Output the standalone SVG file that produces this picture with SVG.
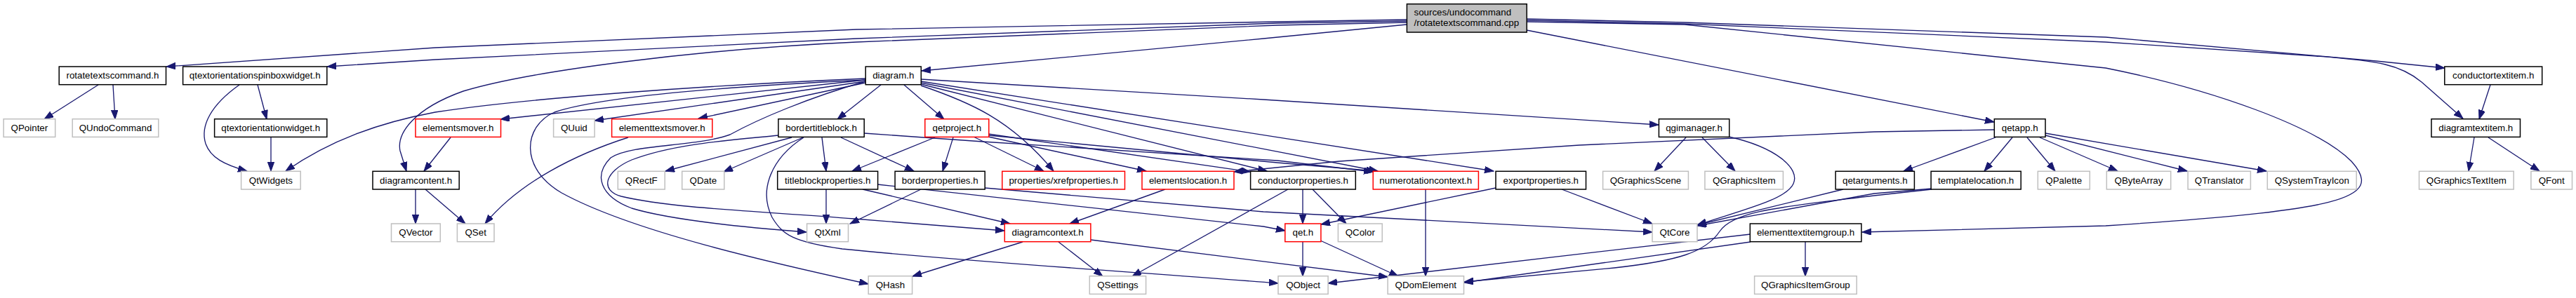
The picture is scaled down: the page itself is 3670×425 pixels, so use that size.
<svg xmlns="http://www.w3.org/2000/svg" width="3670" height="425" viewBox="0 0 3670 425">
<style>
text{font-family:"Liberation Sans",Arial,sans-serif;font-size:13.33px;fill:#000;text-anchor:middle}
.nd rect{fill:#fff;stroke:#000;stroke-width:1.5}
.gr rect{stroke:#bfbfbf}
.rd rect{stroke:#ff0000}
#edges path{fill:none;stroke:#191970;stroke-width:1.33;marker-end:url(#a)}
</style>
<defs>
<marker id="a" markerWidth="14" markerHeight="10" refX="13" refY="4.7" orient="auto" markerUnits="userSpaceOnUse"><path d="M0,0 L13,4.7 L0,9.4 z" fill="#191970" stroke="#191970" stroke-width="1"/></marker>
</defs>
<rect width="3670" height="425" fill="#fff"/>
<g id="edges">
<path d="M2004,28 L1820,31 L1220,42 L620,68 L237,95"/>
<path d="M2004,30 L1820,33 L1220,55 L620,85 L466,95"/>
<path d="M2004,32 L1820,36 L1220,60 C1000,70 760,100 660,130 C590,155 565,190 570,215 L579,244"/>
<path d="M2004,35 L1800,55 L1313,101"/>
<path d="M2175,43 L2841,174"/>
<path d="M2175,27 L2400,32 L3000,53 L3385,87 L3483,97"/>
<path d="M2175,29 L2400,34 L3000,60 L3300,80 C3390,87 3420,92 3450,117 L3509,169"/>
<path d="M2175,31 L2400,35 L3000,97 C3150,127 3300,180 3350,230 C3400,285 3330,300 3000,322 L2653,331"/>
<path d="M140,121 L63,170"/>
<path d="M161,121 L164,170"/>
<path d="M367,121 L380,170"/>
<path d="M341,121 C300,150 285,180 293,205 C300,225 320,235 352,244"/>
<path d="M386,196 L386,244"/>
<path d="M1233,112 C1000,122 750,140 620,160 C540,175 470,200 407,244"/>
<path d="M1233,114 L713,170"/>
<path d="M1233,116 L847,172"/>
<path d="M1233,118 L995,169"/>
<path d="M1255,121 L1193,170"/>
<path d="M1288,121 L1345,170"/>
<path d="M1312,122 C1380,145 1440,170 1501,244"/>
<path d="M1233,114 C1000,125 850,140 790,160 C745,180 740,240 800,275 C900,330 1100,375 1237,405"/>
<path d="M1233,116 C1150,140 1080,170 1040,192 C990,210 900,205 870,225 C845,250 855,280 900,297 C960,315 1070,325 1149,331"/>
<path d="M1109,193 C1040,200 960,205 900,228 C860,245 855,272 885,280 C960,298 1100,302 1217,312 C1300,318 1380,325 1431,329"/>
<path d="M1128,196 L948,244"/>
<path d="M1144,196 L1031,245"/>
<path d="M1171,196 L1177,244"/>
<path d="M1198,196 L1302,244"/>
<path d="M1145,196 C1100,225 1080,270 1100,310 C1115,335 1130,345 1200,355 C1400,375 1650,390 1821,404"/>
<path d="M1231,190 L1400,202 L1820,229 L1956,245"/>
<path d="M1332,196 L1214,244"/>
<path d="M1358,196 L1343,244"/>
<path d="M1387,195 L1487,244"/>
<path d="M1408,195 L1633,244"/>
<path d="M1408,191 L1781,245"/>
<path d="M1408,193 L1820,232 L1960,244"/>
<path d="M1312,120 L1805,244"/>
<path d="M1312,118 L1963,244"/>
<path d="M1312,116 L2128,244"/>
<path d="M1312,113 L1800,142 L2363,178"/>
<path d="M2841,185 L2670,188 L2250,207 L1908,230 L1758,245"/>
<path d="M642,196 L604,244"/>
<path d="M592,270 L592,319"/>
<path d="M606,270 L663,319"/>
<path d="M895,196 C820,220 740,260 691,319"/>
<path d="M1177,270 L1177,319"/>
<path d="M1229,270 L1439,319"/>
<path d="M1250,263 L1800,323 L1831,329"/>
<path d="M1312,270 L1211,319"/>
<path d="M1403,268 L1800,302 L2354,331"/>
<path d="M1660,270 L1524,319"/>
<path d="M1856,270 L1856,319"/>
<path d="M1870,270 L1918,319"/>
<path d="M1835,270 L1613,394"/>
<path d="M2131,268 L1882,320"/>
<path d="M2225,270 L2354,319"/>
<path d="M2031,270 L2031,394"/>
<path d="M2402,196 L2357,244"/>
<path d="M2425,196 L2472,244"/>
<path d="M2463,195 C2530,210 2565,240 2555,262 C2545,285 2480,300 2418,321"/>
<path d="M2843,196 L2712,244"/>
<path d="M2867,196 L2827,244"/>
<path d="M2888,196 L2928,244"/>
<path d="M2906,196 L3017,244"/>
<path d="M2914,193 L3116,244"/>
<path d="M2914,190 L3229,244"/>
<path d="M2626,270 L2418,321"/>
<path d="M2752,269 L2670,276 L2418,322"/>
<path d="M2752,270 L2670,279 C2540,295 2470,300 2450,330 C2430,360 2390,372 2300,382 L2086,402"/>
<path d="M2494,334 L1892,404"/>
<path d="M2494,345 L2086,403"/>
<path d="M2572,345 L2572,394"/>
<path d="M1457,345 L1300,394"/>
<path d="M1508,345 L1571,394"/>
<path d="M1554,342 L1977,395"/>
<path d="M1856,345 L1856,394"/>
<path d="M1881,343 L1992,394"/>
<path d="M3548,121 L3532,170"/>
<path d="M3525,196 L3517,244"/>
<path d="M3545,196 L3618,244"/>
</g>
<g id="root" class="nd"><rect x="2004.4" y="5.7" width="170.8" height="40.3" style="fill:#bfbfbf"/><text x="2014.5" y="21.5" style="text-anchor:start">sources/undocommand</text><text x="2014.5" y="36.5" style="text-anchor:start">/rotatetextscommand.cpp</text></g>
<g id="n_rotatetextscommand" class="nd"><rect x="84.2" y="95" width="152.3" height="25.7"/><text x="160.4" y="112.3">rotatetextscommand.h</text></g>
<g id="n_qtospin" class="nd"><rect x="260.6" y="95" width="205.2" height="25.7"/><text x="363.2" y="112.3">qtextorientationspinboxwidget.h</text></g>
<g id="n_diagram" class="nd"><rect x="1233.2" y="95" width="79.1" height="25.7"/><text x="1272.8" y="112.3">diagram.h</text></g>
<g id="n_conductortextitem" class="nd"><rect x="3482.8" y="95" width="138.9" height="25.7"/><text x="3552.2" y="112.3">conductortextitem.h</text></g>
<g id="n_QPointer" class="nd gr"><rect x="5.1" y="169.7" width="73.6" height="25.7"/><text x="41.9" y="187">QPointer</text></g>
<g id="n_QUndoCommand" class="nd gr"><rect x="103.2" y="169.7" width="122.6" height="25.7"/><text x="164.5" y="187">QUndoCommand</text></g>
<g id="n_qtow" class="nd"><rect x="305.6" y="169.7" width="160.2" height="25.7"/><text x="385.7" y="187">qtextorientationwidget.h</text></g>
<g id="n_elementsmover" class="nd rd"><rect x="592" y="169.7" width="121.5" height="25.7"/><text x="652.8" y="187">elementsmover.h</text></g>
<g id="n_QUuid" class="nd gr"><rect x="788.6" y="169.7" width="58.5" height="25.7"/><text x="817.9" y="187">QUuid</text></g>
<g id="n_elementtextsmover" class="nd rd"><rect x="871.6" y="169.7" width="143.2" height="25.7"/><text x="943.2" y="187">elementtextsmover.h</text></g>
<g id="n_bordertitleblock" class="nd"><rect x="1108.9" y="169.7" width="122.3" height="25.7"/><text x="1170.1" y="187">bordertitleblock.h</text></g>
<g id="n_qetproject" class="nd rd"><rect x="1317.8" y="169.7" width="91" height="25.7"/><text x="1363.3" y="187">qetproject.h</text></g>
<g id="n_qgimanager" class="nd"><rect x="2363.4" y="169.7" width="100.3" height="25.7"/><text x="2413.6" y="187">qgimanager.h</text></g>
<g id="n_qetapp" class="nd"><rect x="2841.3" y="169.7" width="72.7" height="25.7"/><text x="2877.7" y="187">qetapp.h</text></g>
<g id="n_diagramtextitem" class="nd"><rect x="3464" y="169.7" width="126.5" height="25.7"/><text x="3527.3" y="187">diagramtextitem.h</text></g>
<g id="n_QtWidgets" class="nd gr"><rect x="343.6" y="244.3" width="84.6" height="25.7"/><text x="385.9" y="261.6">QtWidgets</text></g>
<g id="n_diagramcontent" class="nd"><rect x="531" y="244.3" width="123.2" height="25.7"/><text x="592.6" y="261.6">diagramcontent.h</text></g>
<g id="n_QRectF" class="nd gr"><rect x="880.3" y="244.3" width="66.9" height="25.7"/><text x="913.8" y="261.6">QRectF</text></g>
<g id="n_QDate" class="nd gr"><rect x="971.7" y="244.3" width="60.1" height="25.7"/><text x="1001.8" y="261.6">QDate</text></g>
<g id="n_titleblockproperties" class="nd"><rect x="1107.7" y="244.3" width="142.9" height="25.7"/><text x="1179.2" y="261.6">titleblockproperties.h</text></g>
<g id="n_borderproperties" class="nd"><rect x="1275.1" y="244.3" width="128.1" height="25.7"/><text x="1339.2" y="261.6">borderproperties.h</text></g>
<g id="n_xrefproperties" class="nd rd"><rect x="1427.8" y="244.3" width="174.7" height="25.7"/><text x="1515.2" y="261.6">properties/xrefproperties.h</text></g>
<g id="n_elementslocation" class="nd rd"><rect x="1627" y="244.3" width="131" height="25.7"/><text x="1692.5" y="261.6">elementslocation.h</text></g>
<g id="n_conductorproperties" class="nd"><rect x="1781.6" y="244.3" width="149.7" height="25.7"/><text x="1856.5" y="261.6">conductorproperties.h</text></g>
<g id="n_numerotationcontext" class="nd rd"><rect x="1956.2" y="244.3" width="150.2" height="25.7"/><text x="2031.3" y="261.6">numerotationcontext.h</text></g>
<g id="n_exportproperties" class="nd"><rect x="2131" y="244.3" width="128.5" height="25.7"/><text x="2195.3" y="261.6">exportproperties.h</text></g>
<g id="n_QGraphicsScene" class="nd gr"><rect x="2283.6" y="244.3" width="121.8" height="25.7"/><text x="2344.5" y="261.6">QGraphicsScene</text></g>
<g id="n_QGraphicsItem" class="nd gr"><rect x="2428.9" y="244.3" width="111.5" height="25.7"/><text x="2484.7" y="261.6">QGraphicsItem</text></g>
<g id="n_qetarguments" class="nd"><rect x="2615.1" y="244.3" width="112.3" height="25.7"/><text x="2671.3" y="261.6">qetarguments.h</text></g>
<g id="n_templatelocation" class="nd"><rect x="2751.1" y="244.3" width="128.1" height="25.7"/><text x="2815.2" y="261.6">templatelocation.h</text></g>
<g id="n_QPalette" class="nd gr"><rect x="2903.3" y="244.3" width="74" height="25.7"/><text x="2940.3" y="261.6">QPalette</text></g>
<g id="n_QByteArray" class="nd gr"><rect x="3001.3" y="244.3" width="91.4" height="25.7"/><text x="3047" y="261.6">QByteArray</text></g>
<g id="n_QTranslator" class="nd gr"><rect x="3117.1" y="244.3" width="89.3" height="25.7"/><text x="3161.8" y="261.6">QTranslator</text></g>
<g id="n_QSystemTrayIcon" class="nd gr"><rect x="3230.3" y="244.3" width="126.9" height="25.7"/><text x="3293.8" y="261.6">QSystemTrayIcon</text></g>
<g id="n_QGraphicsTextItem" class="nd gr"><rect x="3446.5" y="244.3" width="134.7" height="25.7"/><text x="3513.9" y="261.6">QGraphicsTextItem</text></g>
<g id="n_QFont" class="nd gr"><rect x="3605.9" y="244.3" width="58.6" height="25.7"/><text x="3635.2" y="261.6">QFont</text></g>
<g id="n_QVector" class="nd gr"><rect x="557.5" y="319" width="69.8" height="25.7"/><text x="592.4" y="336.3">QVector</text></g>
<g id="n_QSet" class="nd gr"><rect x="651.4" y="319" width="52.6" height="25.7"/><text x="677.7" y="336.3">QSet</text></g>
<g id="n_QtXml" class="nd gr"><rect x="1149.6" y="319" width="58.9" height="25.7"/><text x="1179.1" y="336.3">QtXml</text></g>
<g id="n_diagramcontext" class="nd rd"><rect x="1431.3" y="319" width="122.6" height="25.7"/><text x="1492.6" y="336.3">diagramcontext.h</text></g>
<g id="n_qet" class="nd rd"><rect x="1830.8" y="319" width="51.1" height="25.7"/><text x="1856.4" y="336.3">qet.h</text></g>
<g id="n_QColor" class="nd gr"><rect x="1906.4" y="319" width="62.8" height="25.7"/><text x="1937.8" y="336.3">QColor</text></g>
<g id="n_QtCore" class="nd gr"><rect x="2354" y="319" width="64" height="25.7"/><text x="2386" y="336.3">QtCore</text></g>
<g id="n_elementtextitemgroup" class="nd"><rect x="2493.3" y="319" width="158.6" height="25.7"/><text x="2572.6" y="336.3">elementtextitemgroup.h</text></g>
<g id="n_QHash" class="nd gr"><rect x="1237.2" y="393.7" width="62.4" height="25.7"/><text x="1268.4" y="411">QHash</text></g>
<g id="n_QSettings" class="nd gr"><rect x="1552.3" y="393.7" width="80.3" height="25.7"/><text x="1592.5" y="411">QSettings</text></g>
<g id="n_QObject" class="nd gr"><rect x="1821" y="393.7" width="71.1" height="25.7"/><text x="1856.6" y="411">QObject</text></g>
<g id="n_QDomElement" class="nd gr"><rect x="1977.1" y="393.7" width="108.4" height="25.7"/><text x="2031.3" y="411">QDomElement</text></g>
<g id="n_QGraphicsItemGroup" class="nd gr"><rect x="2499.6" y="393.7" width="145.6" height="25.7"/><text x="2572.4" y="411">QGraphicsItemGroup</text></g>
</svg>
